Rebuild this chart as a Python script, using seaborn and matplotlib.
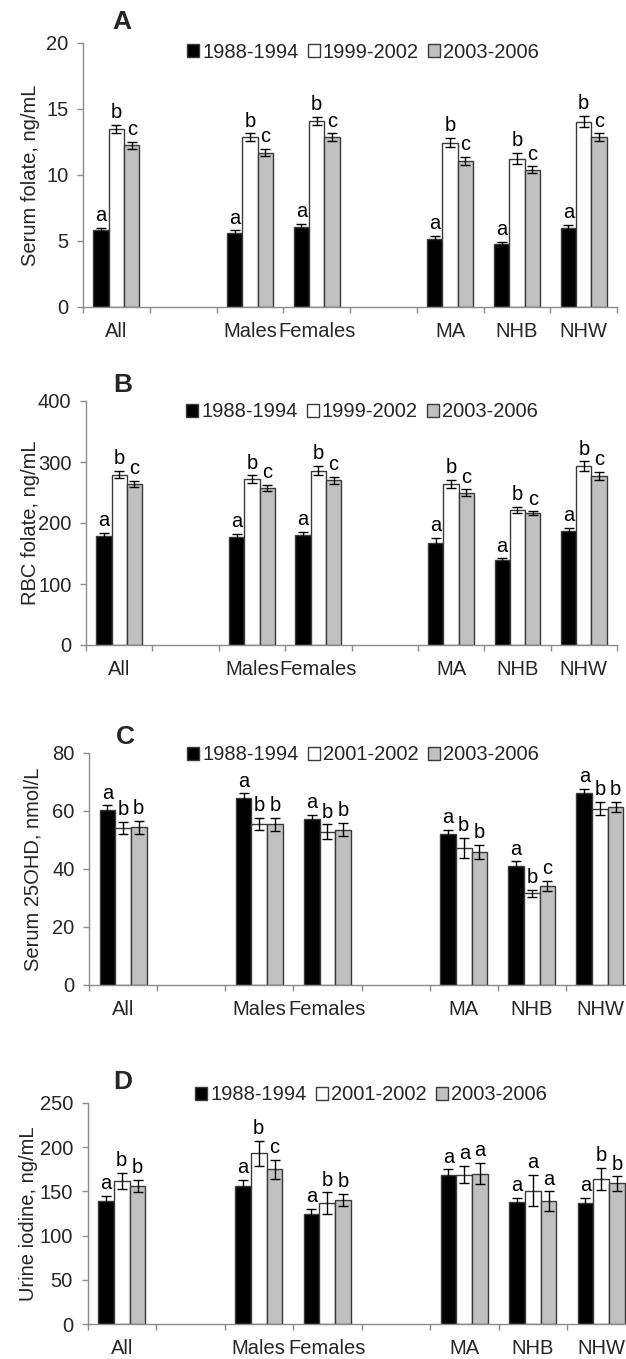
import numpy as np
import pandas as pd
import matplotlib
matplotlib.use("Agg")
import matplotlib.pyplot as plt
from matplotlib.container import BarContainer
import seaborn as sns

# ---------------- data ----------------
groups = ["All", "Males", "Females", "MA", "NHB", "NHW"]
slots = ["All", "gap1", "Males", "Females", "gap2", "MA", "NHB", "NHW"]
slot_labels = ["All", "", "Males", "Females", "", "MA", "NHB", "NHW"]

periods_ab = ["1988-1994", "1999-2002", "2003-2006"]
periods_cd = ["1988-1994", "2001-2002", "2003-2006"]

# Panel A: serum folate, ng/mL
a_p1 = [5.8, 5.6, 6.05, 5.15, 4.8, 6.0]
a_p2 = [13.5, 12.85, 14.1, 12.45, 11.25, 14.05]
a_p3 = [12.25, 11.7, 12.85, 11.05, 10.4, 12.85]
a_e1 = [0.2, 0.2, 0.25, 0.25, 0.12, 0.25]
a_e2 = [0.3, 0.3, 0.3, 0.35, 0.4, 0.4]
a_e3 = [0.25, 0.25, 0.3, 0.3, 0.25, 0.3]
a_l1 = ["a"] * 6
a_l2 = ["b"] * 6
a_l3 = ["c"] * 6

# Panel B: RBC folate, ng/mL
b_p1 = [179, 177, 181, 168, 139, 187]
b_p2 = [279, 272, 286, 264, 222, 293]
b_p3 = [264, 258, 270, 250, 216, 277]
b_e1 = [5, 5, 5, 7, 3, 5]
b_e2 = [6, 6, 7, 7, 5, 8]
b_e3 = [5, 5, 6, 5, 3, 7]
b_l1 = ["a"] * 6
b_l2 = ["b"] * 6
b_l3 = ["c"] * 6

# Panel C: serum 25OHD, nmol/L
c_p1 = [60.5, 64.6, 57.1, 51.9, 41.0, 66.2]
c_p2 = [54.2, 55.6, 52.8, 47.3, 31.6, 60.8]
c_p3 = [54.4, 55.4, 53.6, 45.9, 34.2, 61.4]
c_e1 = [1.4, 1.5, 1.5, 1.6, 1.6, 1.4]
c_e2 = [2.0, 2.1, 2.6, 3.5, 1.2, 2.3]
c_e3 = [2.2, 2.2, 2.2, 2.5, 1.8, 1.8]
c_l1 = ["a"] * 6
c_l2 = ["b"] * 6
c_l3 = ["b", "b", "b", "b", "c", "b"]

# Panel D: urine iodine, ng/mL
d_p1 = [139, 156, 124, 168, 138, 137]
d_p2 = [162, 193, 137, 169, 151, 164]
d_p3 = [156, 175, 140, 170, 139, 159]
d_e1 = [5.5, 7, 6, 7, 5, 6]
d_e2 = [9, 14, 12, 10, 18, 12.5]
d_e3 = [7, 11, 7, 12, 11, 8]
d_l1 = ["a"] * 6
d_l2 = ["b", "b", "b", "a", "a", "b"]
d_l3 = ["b", "c", "b", "a", "a", "b"]

panels = [
    dict(tag="A", ylabel="Serum folate, ng/mL", periods=periods_ab,
         vals=[a_p1, a_p2, a_p3], errs=[a_e1, a_e2, a_e3], lets=[a_l1, a_l2, a_l3],
         ylim=20, yticks=[0, 5, 10, 15, 20],
         px=(83, 617, 43, 307), tagpos=(122, 22), legpos=(363, 52), ylab_x=40),
    dict(tag="B", ylabel="RBC folate, ng/mL", periods=periods_ab,
         vals=[b_p1, b_p2, b_p3], errs=[b_e1, b_e2, b_e3], lets=[b_l1, b_l2, b_l3],
         ylim=400, yticks=[0, 100, 200, 300, 400],
         px=(86, 617, 401, 645), tagpos=(123, 385), legpos=(362, 412), ylab_x=40),
    dict(tag="C", ylabel="Serum 25OHD, nmol/L", periods=periods_cd,
         vals=[c_p1, c_p2, c_p3], errs=[c_e1, c_e2, c_e3], lets=[c_l1, c_l2, c_l3],
         ylim=80, yticks=[0, 20, 40, 60, 80],
         px=(89, 634, 753, 985), tagpos=(125, 737), legpos=(363, 755), ylab_x=43),
    dict(tag="D", ylabel="Urine iodine, ng/mL", periods=periods_cd,
         vals=[d_p1, d_p2, d_p3], errs=[d_e1, d_e2, d_e3], lets=[d_l1, d_l2, d_l3],
         ylim=250, yticks=[0, 50, 100, 150, 200, 250],
         px=(87.5, 635.5, 1103, 1324), tagpos=(123, 1082), legpos=(371, 1095), ylab_x=38),
]

colors = ["#000000", "#ffffff", "#c0c0c0"]
axis_gray = "#8c8c8c"

# ---------------- style ----------------
sns.set_style("white")
plt.rcParams["font.family"] = ["Liberation Sans", "DejaVu Sans"]

W, H = 626, 1359
fig = plt.figure(figsize=(W / 100, H / 100), dpi=100)

for P in panels:
    x0, x1, ytop, ybot = P["px"]
    ax = fig.add_axes([x0 / W, 1 - ybot / H, (x1 - x0) / W, (ybot - ytop) / H])

    rows = []
    for pi, per in enumerate(P["periods"]):
        for gi, g in enumerate(groups):
            rows.append(dict(group=g, period=per, value=P["vals"][pi][gi]))
    df = pd.DataFrame(rows)

    sns.barplot(data=df, x="group", y="value", hue="period", order=slots,
                hue_order=P["periods"], palette=colors, errorbar=None,
                width=0.69, gap=0, saturation=1, edgecolor="#3a3a3a",
                linewidth=1.0, ax=ax)

    bar_conts = [c for c in ax.containers if isinstance(c, BarContainer)]
    # error bars + letters on the drawn bars
    for pi, cont in enumerate(bar_conts):
        for patch in list(cont.patches):
            cx = patch.get_x() + patch.get_width() / 2
            h = patch.get_height()
            slot = slots[int(round(cx))]
            gi = groups.index(slot)
            e = P["errs"][pi][gi]
            ax.errorbar(cx, h, yerr=e, fmt="none", ecolor="black",
                        elinewidth=1.0, capsize=3.4, capthick=1.0, zorder=5)
            ax.annotate(P["lets"][pi][gi], (cx, h + e), xytext=(0, 2),
                        textcoords="offset points", ha="center", va="bottom",
                        fontsize=14.5, color="black")

    ax.set_xlim(-0.5, 7.5)
    ax.set_ylim(0, P["ylim"])
    ax.set_yticks(P["yticks"])
    ax.set_yticklabels([str(t) for t in P["yticks"]])
    ax.set_xticks(np.arange(-0.5, 8.0, 1.0))
    ax.set_xticklabels([])
    ax.set_xticks(np.arange(8), minor=True)
    ax.set_xticklabels(slot_labels, minor=True)
    ax.tick_params(axis="x", which="major", length=4.5, width=1, color=axis_gray,
                   direction="out", bottom=True)
    ax.tick_params(axis="x", which="minor", length=0, pad=11, labelsize=14.5,
                   bottom=True)
    ax.tick_params(axis="y", length=4.5, width=1, color=axis_gray, direction="out",
                   left=True, pad=6, labelsize=14.5)
    for s in ["top", "right"]:
        ax.spines[s].set_visible(False)
    for s in ["left", "bottom"]:
        ax.spines[s].set_color(axis_gray)
        ax.spines[s].set_linewidth(1.0)
    ax.set_xlabel("")
    ax.set_ylabel(P["ylabel"], fontsize=14.5)
    ax.yaxis.set_label_coords((P["ylab_x"] - x0) / (x1 - x0), 0.5)

    # legend
    lx, ly = P["legpos"]
    sns.move_legend(ax, "center", bbox_to_anchor=(lx / W, 1 - ly / H),
                    bbox_transform=fig.transFigure, ncol=3, title=None,
                    frameon=False, fontsize=14.5, handlelength=0.6,
                    handleheight=0.6, handletextpad=0.15, columnspacing=0.45,
                    borderpad=0, borderaxespad=0)
    leg = ax.get_legend()
    for hnd in leg.legend_handles:
        hnd.set_edgecolor("#3a3a3a")
        hnd.set_linewidth(1.0)

    tx, ty = P["tagpos"]
    fig.text(tx / W, 1 - ty / H, P["tag"], fontsize=19, fontweight="bold",
             ha="center", va="center")

fig.savefig("out.png", dpi=100)
